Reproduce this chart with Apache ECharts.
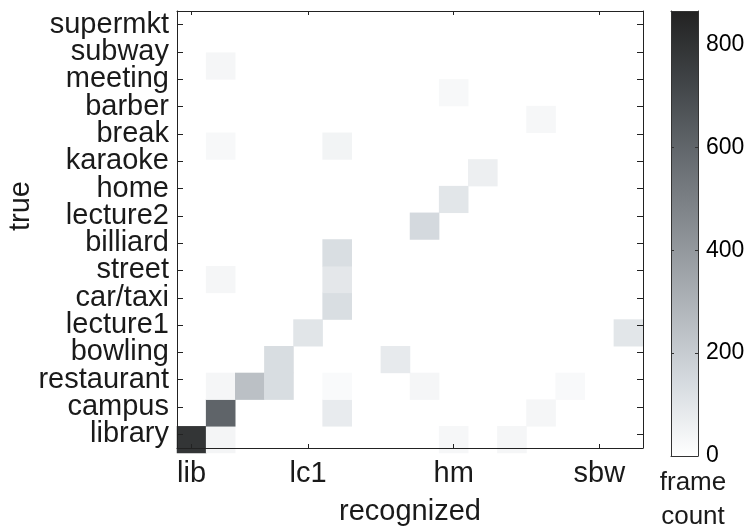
<!DOCTYPE html>
<html><head><meta charset="utf-8">
<script src="https://cdn.jsdelivr.net/npm/echarts@6/dist/echarts.min.js"></script>
<style>html,body{margin:0;padding:0;background:#fff}#c{width:755px;height:531px}</style>
</head><body><div id="c"></div>
<script>
// true classes, bottom (index 0) to top
const trueLabels = ['library','campus','restaurant','bowling','lecture1','car/taxi','street','billiard','lecture2','home','karaoke','break','barber','meeting','subway','supermkt'];
// recognized classes (same order); only some are labelled in the figure
const recognizedLabels = ['lib','','','','lc1','','','','','hm','','','','','sbw',''];
const colorbarTicks = [0,200,400,600,800];
const colorMax = 865;
// non-zero cells: column (recognized index), row (true index), frame count
const cellCol   = [0, 1, 9,11,  1, 5,12,  1,  2,  3, 5, 8,13,  3, 7,  4,15,  5,  1, 5,  5,  8, 9,10,  1, 5, 12, 9, 1];
const cellRow   = [0, 0, 0, 0,  1, 1, 1,  2,  2,  2, 2, 2, 2,  3, 3,  4, 4,  5,  6, 6,  7,  8, 9,10, 11,11, 12,13,14];
const cellValue = [790,39,31,35, 607,78,35, 35,247,133,20,35,23, 133,82, 102,98, 130, 35,94, 130, 149,98,63, 27,43, 31,27,35];
const grayRamp = ['#ffffff','#d5dadf','#b0b5ba','#8b9095','#676c71','#424649','#222222'];

const cells = cellValue.map((v,i)=>[cellCol[i], cellRow[i], v]);
const idx = trueLabels.map((_,i)=>i);
const F = "'Liberation Sans', Arial, Helvetica, sans-serif";
const AC = '#222';
const TC = '#1a1a1a';
const rampGradient = new echarts.graphic.LinearGradient(0, 1, 0, 0,
  grayRamp.map((c,i)=>({offset:i/(grayRamp.length-1), color:c})));
const chart = echarts.init(document.getElementById('c'), null, {renderer:'canvas'});
const hidden = {show:false};
const lineA = {show:true, onZero:false, lineStyle:{color:AC, width:1}};
const lineC = {show:true, onZero:false, lineStyle:{color:'#333', width:1}};
const catTickX = {show:true, inside:true, alignWithLabel:true, length:4, interval:(i,v)=>v!=='', lineStyle:{color:AC}};
const catTickY = {show:true, inside:true, alignWithLabel:true, length:6, interval:0, lineStyle:{color:AC}};
const barTick = {show:true, inside:true, length:3, lineStyle:{color:'#333'}};
chart.setOption({
  animation:false,
  backgroundColor:'#fff',
  grid:[
    {left:177, top:11, width:466, height:442},
    {left:177, top:26, width:466, height:427},
    {left:671, top:11, width:27, height:445, show:true, backgroundColor:rampGradient, borderWidth:0}
  ],
  xAxis:[
    {gridIndex:0, type:'category', data:recognizedLabels, position:'bottom', z:10,
     axisLine:lineA, axisTick:catTickX,
     axisLabel:{interval:0, margin:11, fontFamily:F, fontSize:29, color:TC},
     name:'recognized', nameLocation:'middle', nameGap:49,
     nameTextStyle:{fontFamily:F, fontSize:29, color:TC}},
    {gridIndex:0, type:'category', data:recognizedLabels, position:'top', z:10,
     axisLine:lineA, axisTick:catTickX, axisLabel:hidden},
    {gridIndex:1, type:'category', data:idx, show:false},
    {gridIndex:2, type:'value', min:0, max:1, position:'bottom', z:10,
     axisLine:lineC, axisTick:hidden, axisLabel:hidden, splitLine:hidden},
    {gridIndex:2, type:'value', min:0, max:1, position:'top', z:10,
     axisLine:lineC, axisTick:hidden, axisLabel:hidden, splitLine:hidden}
  ],
  yAxis:[
    {gridIndex:0, type:'category', data:trueLabels, position:'left', z:10,
     axisLine:lineA, axisTick:catTickY,
     axisLabel:{interval:0, margin:8, fontFamily:F, fontSize:29, color:TC}},
    {gridIndex:0, type:'category', data:trueLabels, position:'right', z:10,
     axisLine:lineA, axisTick:catTickY, axisLabel:hidden},
    {gridIndex:1, type:'category', data:idx, show:false},
    {gridIndex:2, type:'value', min:0, max:colorMax, interval:200, position:'left', z:10,
     axisLine:lineC, axisTick:barTick, axisLabel:hidden, splitLine:hidden},
    {gridIndex:2, type:'value', min:0, max:colorMax, interval:200, position:'right', z:10,
     axisLine:lineC, axisTick:barTick,
     axisLabel:{margin:8, showMaxLabel:false, fontFamily:F, fontSize:23, color:'#000',
       formatter:v=>colorbarTicks.indexOf(v)>=0?String(v):''},
     splitLine:hidden}
  ],
  visualMap:{
    type:'continuous', show:false, min:0, max:colorMax, seriesIndex:0,
    inRange:{color:grayRamp}
  },
  series:[{
    type:'heatmap', xAxisIndex:2, yAxisIndex:2, data:cells,
    itemStyle:{borderWidth:0}, emphasis:{disabled:true}
  }],
  graphic:[
    {type:'text', x:21, y:206, rotation:Math.PI/2,
     style:{text:'true', fontFamily:F, fontSize:29, fill:TC, align:'center', verticalAlign:'middle'}},
    {type:'text', x:693, y:500,
     style:{text:'frame\ncount', fontFamily:F, fontSize:26, lineHeight:34, fill:TC, align:'center', verticalAlign:'middle'}}
  ]
});
</script></body></html>
